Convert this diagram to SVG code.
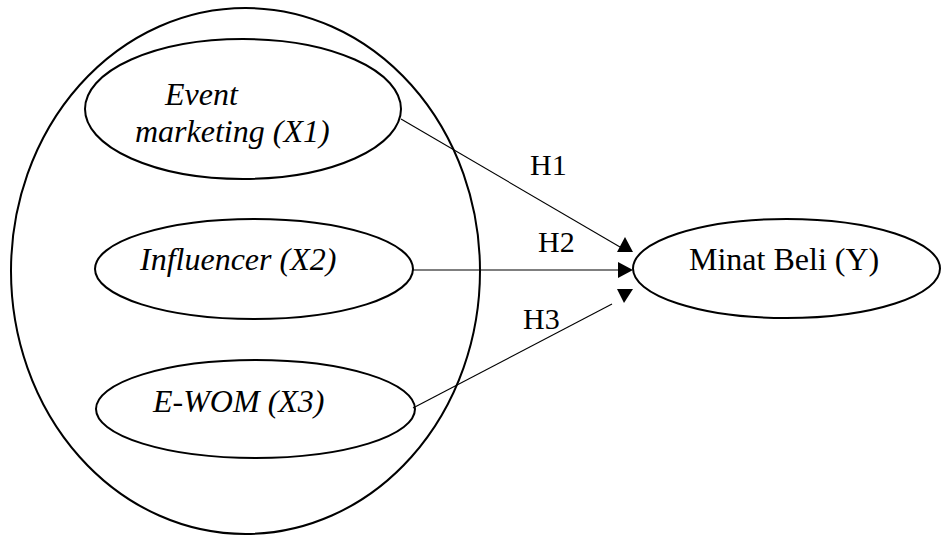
<svg xmlns="http://www.w3.org/2000/svg" width="941" height="535" viewBox="0 0 941 535">
<style>
.e{fill:none;stroke:#000;stroke-width:2}
.c{fill:none;stroke:#000;stroke-width:1.1}
.h{fill:#000}
text{font-family:"Liberation Serif","Times New Roman",serif;font-size:32px;fill:#000}
.i{font-style:italic}
.l{font-size:30px}
</style>
<rect width="941" height="535" fill="#fff"/>
<g id="group-x">
<ellipse class="e" cx="245.5" cy="271" rx="234.5" ry="263"/>
</g>
<g id="x1">
<ellipse class="e" cx="243" cy="109" rx="158" ry="70"/>
<text class="i" x="165" y="105">Event</text>
<text class="i" x="135" y="142">marketing (X1)</text>
</g>
<g id="x2">
<ellipse class="e" cx="254" cy="269" rx="159" ry="50"/>
<text class="i" x="140" y="270">Influencer (X2)</text>
</g>
<g id="x3">
<ellipse class="e" cx="255.5" cy="409" rx="159.5" ry="49"/>
<text class="i" x="153" y="412">E-WOM (X3)</text>
</g>
<g id="y">
<ellipse class="e" cx="786.5" cy="268.5" rx="153.5" ry="49.5"/>
<text x="689" y="270">Minat Beli (Y)</text>
</g>
<g id="connectors">
<line class="c" x1="401" y1="119" x2="620" y2="247"/>
<polygon class="h" points="625,237 617,252 633,252"/>
<line class="c" x1="413" y1="270" x2="619" y2="270"/>
<polygon class="h" points="618,262 633,270 618,278"/>
<line class="c" x1="413" y1="408" x2="612" y2="304"/>
<polygon class="h" points="617,289 633,289 624,303"/>
<text class="l" x="530" y="175">H1</text>
<text class="l" x="538" y="252">H2</text>
<text class="l" x="523" y="329">H3</text>
</g>
</svg>
